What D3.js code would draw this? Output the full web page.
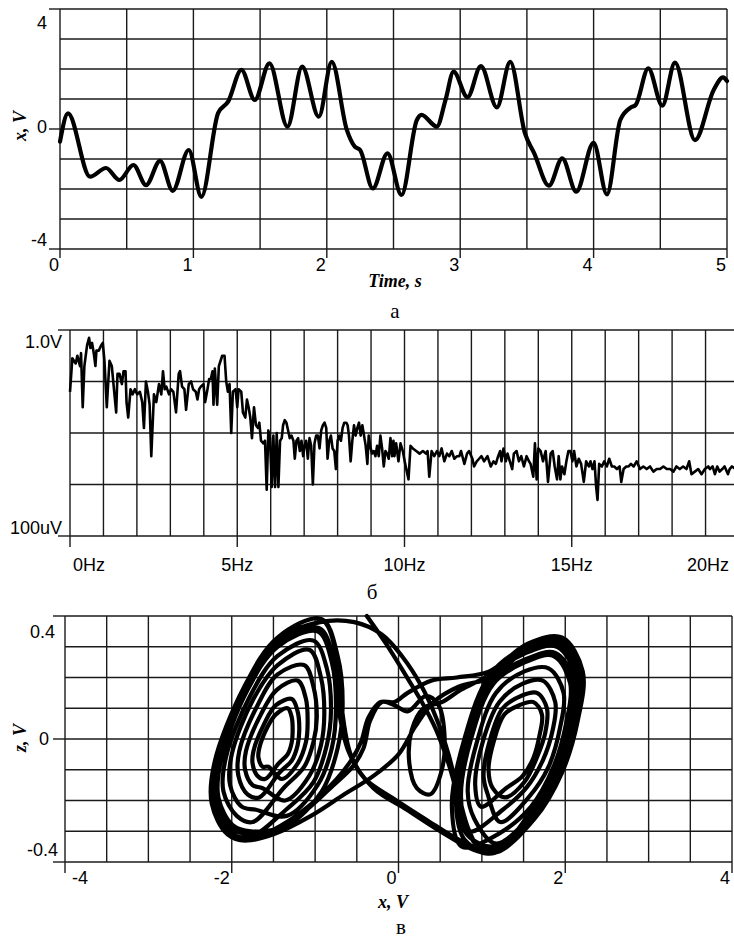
<!DOCTYPE html>
<html>
<head>
<meta charset="utf-8">
<script src="https://cdn.jsdelivr.net/npm/d3@7"></script>
<style>
  body { margin: 0; background: #fff; }
  svg { display: block; }
  .grid line { stroke: #1a1a1a; stroke-width: 1.4; }
  .tick-label { font-family: "Liberation Sans", Arial, sans-serif; font-size: 18px; fill: #000; }
  .axis-title { font-family: "Liberation Serif", "Times New Roman", serif; font-style: italic; font-weight: bold; font-size: 18px; fill: #000; }
  .caption { font-family: "Liberation Serif", "Times New Roman", serif; font-size: 21px; fill: #000; }
</style>
</head>
<body>
<svg id="chart" width="734" height="941"></svg>
<script>
// ---- panel a: x(t), volts vs seconds (extrema)
const timeS = [0, 0.06, 0.225, 0.345, 0.445, 0.55, 0.645, 0.75, 0.845, 0.965, 1.06, 1.185, 1.26, 1.36,
  1.46, 1.57, 1.705, 1.815, 1.94, 2.037, 2.15, 2.21, 2.25, 2.345, 2.455, 2.56, 2.675, 2.71, 2.825,
  2.89, 2.95, 3.055, 3.155, 3.275, 3.375, 3.485, 3.555, 3.665, 3.765, 3.87, 4.0, 4.1, 4.2, 4.28,
  4.315, 4.41, 4.515, 4.61, 4.76, 4.9, 4.97, 5.0];
const xVolt = [-0.42, 0.52, -1.59, -1.3, -1.7, -1.2, -1.87, -1.06, -2.06, -0.7, -2.26, 0.53, 0.91, 1.97,
  0.97, 2.19, 0.08, 2.08, 0.41, 2.24, -0.03, -0.59, -0.7, -1.98, -0.81, -2.2, 0.3, 0.47, 0.08,
  0.97, 1.91, 1.06, 2.1, 0.72, 2.24, -0.14, -0.81, -1.89, -0.98, -2.09, -0.46, -2.18, 0.3, 0.72,
  0.8, 2.02, 0.78, 2.21, -0.37, 1.3, 1.72, 1.6];
const timeTicks = [0, 1, 2, 3, 4, 5];
const voltTicks = [4, 0, -4];

// ---- panel b: spectrum, [frequency Hz, level dBV]
const spectrum = [
  [0.00,-24],[0.07,-11],[0.17,-13],[0.22,-10],[0.30,-14],[0.33,-9],[0.38,-30],[0.43,-14],[0.51,-6],[0.57,-3],
  [0.61,-7],[0.66,-5],[0.71,-9],[0.76,-14],[0.79,-8],[0.86,-8],[0.93,-6],[0.98,-5],[1.03,-12],[1.10,-30],
  [1.18,-12],[1.25,-14],[1.30,-21],[1.38,-32],[1.42,-17],[1.48,-17],[1.55,-21],[1.60,-16],[1.66,-16],[1.69,-28],
  [1.74,-34],[1.81,-23],[1.87,-25],[1.94,-23],[2.01,-25],[2.09,-24],[2.16,-28],[2.21,-38],[2.27,-20],[2.33,-24],
  [2.38,-29],[2.43,-49],[2.51,-25],[2.58,-28],[2.66,-21],[2.73,-25],[2.78,-16],[2.83,-23],[2.88,-22],[2.96,-25],
  [3.02,-23],[3.09,-24],[3.17,-32],[3.25,-17],[3.29,-16],[3.35,-22],[3.42,-23],[3.47,-31],[3.55,-21],[3.62,-20],
  [3.68,-23],[3.76,-24],[3.81,-27],[3.86,-23],[3.91,-22],[3.99,-21],[4.04,-28],[4.11,-23],[4.16,-19],[4.21,-19],
  [4.26,-16],[4.29,-29],[4.33,-15],[4.40,-29],[4.45,-14],[4.55,-10],[4.62,-10],[4.67,-20],[4.72,-24],[4.77,-21],
  [4.82,-40],[4.87,-24],[4.95,-23],[5.00,-30],[5.04,-23],[5.12,-24],[5.17,-32],[5.24,-34],[5.29,-27],[5.34,-30],
  [5.39,-34],[5.44,-42],[5.50,-30],[5.56,-37],[5.62,-38],[5.66,-36],[5.71,-43],[5.78,-44],[5.83,-43],[5.88,-62],
  [5.93,-39],[5.98,-42],[6.03,-61],[6.08,-41],[6.13,-61],[6.18,-40],[6.23,-61],[6.28,-43],[6.33,-42],[6.37,-37],
  [6.42,-35],[6.47,-36],[6.52,-39],[6.57,-42],[6.62,-41],[6.68,-43],[6.72,-50],[6.77,-43],[6.82,-42],[6.87,-47],
  [6.92,-43],[6.97,-49],[7.01,-45],[7.06,-43],[7.11,-50],[7.16,-42],[7.21,-45],[7.26,-60],[7.31,-44],[7.36,-41],
  [7.41,-41],[7.46,-46],[7.51,-39],[7.56,-37],[7.61,-36],[7.66,-38],[7.70,-50],[7.75,-43],[7.80,-41],[7.85,-46],
  [7.90,-47],[7.95,-54],[8.00,-43],[8.05,-41],[8.10,-43],[8.15,-38],[8.20,-36],[8.26,-36],[8.30,-37],[8.34,-41],
  [8.39,-51],[8.44,-43],[8.49,-37],[8.54,-41],[8.59,-38],[8.64,-36],[8.69,-41],[8.74,-37],[8.79,-41],[8.84,-45],
  [8.89,-52],[8.93,-41],[8.99,-46],[9.03,-48],[9.08,-47],[9.13,-49],[9.18,-45],[9.23,-49],[9.28,-41],[9.33,-46],
  [9.38,-53],[9.43,-47],[9.48,-48],[9.53,-50],[9.58,-42],[9.63,-49],[9.67,-43],
  [9.70,-49],[9.75,-44],[9.82,-51],[9.88,-44],[9.95,-47],[10.02,-52],[10.12,-58],[10.18,-45],[10.25,-46],[10.35,-47],
  [10.45,-48],[10.55,-47],[10.64,-48],[10.69,-47],[10.74,-57],[10.81,-47],[10.89,-49],[10.97,-47],[11.04,-49],[11.11,-46],
  [11.19,-51],[11.27,-48],[11.34,-49],[11.41,-47],[11.49,-50],[11.57,-49],[11.64,-49],[11.69,-47],[11.79,-52],[11.87,-48],
  [11.93,-47],[12.03,-50],[12.08,-53],[12.16,-51],[12.23,-50],[12.30,-49],[12.38,-51],[12.48,-49],[12.58,-53],[12.66,-51],
  [12.73,-52],[12.80,-49],[12.86,-47],[12.90,-51],[12.96,-46],[13.03,-51],[13.08,-48],[13.15,-51],[13.22,-54],[13.27,-48],
  [13.35,-47],[13.42,-51],[13.49,-49],[13.57,-53],[13.65,-49],[13.72,-51],[13.77,-52],[13.85,-57],[13.90,-44],[13.95,-58],
  [14.00,-46],[14.07,-47],[14.14,-51],[14.22,-47],[14.29,-59],[14.37,-48],[14.43,-47],[14.49,-53],[14.56,-58],[14.61,-49],
  [14.66,-58],[14.71,-53],[14.78,-56],[14.84,-51],[14.90,-47],[14.96,-47],[15.02,-51],[15.07,-47],[15.14,-53],[15.21,-50],
  [15.28,-52],[15.36,-59],[15.43,-51],[15.51,-53],[15.56,-51],[15.62,-54],[15.68,-51],[15.73,-61],[15.77,-66],[15.82,-52],
  [15.90,-53],[15.97,-51],[16.05,-53],[16.12,-50],[16.20,-53],[16.27,-53],[16.35,-54],[16.43,-53],[16.48,-59],[16.55,-54],
  [16.63,-53],[16.70,-53],[16.77,-52],[16.85,-53],[16.94,-51],[17.04,-54],[17.14,-53],[17.24,-54],[17.34,-53],[17.44,-55],
  [17.54,-54],[17.64,-54],[17.74,-53],[17.84,-54],[17.94,-54],[18.04,-55],[18.13,-53],[18.23,-54],[18.33,-53],[18.43,-54],
  [18.51,-51],[18.58,-56],[18.68,-55],[18.78,-54],[18.88,-56],[18.98,-54],[19.08,-53],[19.13,-54],[19.21,-53],[19.28,-56],
  [19.35,-53],[19.42,-55],[19.50,-54],[19.57,-53],[19.67,-56],[19.72,-54],[19.79,-53],[19.90,-54],[20.00,-53]
];
const freqTicks = [0, 5, 10, 15, 20];
const freqLabels = ["0Hz", "5Hz", "10Hz", "15Hz", "20Hz"];
const levelTicks = [1, 1e-4];
const levelLabels = ["1.0V", "100uV"];

// ---- panel c: phase portrait, [x V, z V] traced along the trajectory
const attractorXZ = [
  // entry from the top edge down into the right scroll
  [-0.38,0.40],[-0.15,0.31],[0.08,0.21],[0.28,0.12],[0.45,0.03],[0.60,-0.08],[0.75,-0.22],[0.92,-0.34],
  // right scroll
  [1.16,-0.36],[1.62,-0.25],[1.94,-0.11],[2.12,0.06],[2.18,0.21],[1.94,0.32],[1.54,0.30],[1.10,0.21],[0.79,0.00],[0.64,-0.22],[0.76,-0.35],
  [1.19,-0.31],[1.59,-0.22],[1.86,-0.09],[2.01,0.05],[2.06,0.18],[1.86,0.27],[1.52,0.25],[1.14,0.18],[0.87,0.00],[0.75,-0.19],[0.85,-0.30],
  [1.25,-0.23],[1.53,-0.16],[1.73,-0.07],[1.85,0.03],[1.88,0.12],[1.73,0.19],[1.49,0.18],[1.21,0.12],[1.01,-0.01],[0.92,-0.15],[0.99,-0.22],
  [1.29,-0.16],[1.49,-0.12],[1.62,-0.06],[1.69,0.01],[1.72,0.08],[1.62,0.12],[1.45,0.11],[1.27,0.08],[1.14,-0.01],[1.08,-0.10],[1.13,-0.16],
  [1.28,-0.19],[1.51,-0.14],[1.66,-0.06],[1.76,0.02],[1.78,0.10],[1.66,0.15],[1.47,0.14],[1.25,0.10],[1.09,-0.01],[1.02,-0.12],[1.07,-0.18],
  [1.22,-0.27],[1.56,-0.19],[1.80,-0.09],[1.94,0.04],[1.98,0.15],[1.80,0.23],[1.51,0.22],[1.17,0.15],[0.94,-0.01],[0.83,-0.17],[0.91,-0.26],
  [1.17,-0.34],[1.61,-0.24],[1.90,-0.10],[2.07,0.05],[2.13,0.20],[1.90,0.30],[1.53,0.28],[1.12,0.20],[0.82,0.00],[0.69,-0.21],[0.80,-0.33],
  [1.15,-0.37],[1.63,-0.26],[1.96,-0.11],[2.15,0.06],[2.21,0.22],[1.96,0.33],[1.55,0.31],[1.09,0.22],
  // across the middle, over the arch, down to the left scroll
  [0.70,0.20],[0.40,0.19],[0.11,0.15],[-0.05,0.12],[-0.22,0.12],[-0.36,0.07],[-0.45,-0.01],[-0.57,-0.07],[-0.74,-0.13],[-1.04,-0.21],[-1.40,-0.28],
  // left scroll
  [-1.81,-0.33],[-2.05,-0.31],[-2.24,-0.21],[-2.21,-0.08],[-1.85,0.17],[-1.45,0.33],[-0.92,0.39],[-0.73,0.27],[-0.67,0.11],[-0.73,-0.03],[-0.92,-0.17],[-1.33,-0.28],
  [-1.77,-0.30],[-1.99,-0.28],[-2.16,-0.19],[-2.13,-0.07],[-1.81,0.16],[-1.45,0.30],[-0.97,0.35],[-0.80,0.25],[-0.75,0.10],[-0.80,-0.03],[-0.97,-0.15],[-1.34,-0.25],
  [-1.71,-0.23],[-1.88,-0.22],[-2.02,-0.15],[-2.00,-0.05],[-1.74,0.13],[-1.45,0.24],[-1.07,0.29],[-0.93,0.20],[-0.89,0.08],[-0.93,-0.02],[-1.07,-0.12],[-1.36,-0.20],
  [-1.63,-0.16],[-1.75,-0.15],[-1.84,-0.10],[-1.83,-0.04],[-1.65,0.08],[-1.46,0.16],[-1.21,0.19],[-1.11,0.13],[-1.09,0.05],[-1.11,-0.01],[-1.21,-0.08],[-1.40,-0.13],
  [-1.56,-0.09],[-1.63,-0.09],[-1.68,-0.06],[-1.67,-0.03],[-1.57,0.04],[-1.47,0.08],[-1.33,0.10],[-1.28,0.07],[-1.27,0.02],[-1.28,-0.01],[-1.33,-0.05],[-1.44,-0.08],
  [-1.60,-0.13],[-1.69,-0.12],[-1.75,-0.08],[-1.74,-0.04],[-1.61,0.05],[-1.47,0.11],[-1.28,0.13],[-1.21,0.09],[-1.19,0.03],[-1.21,-0.02],[-1.28,-0.07],[-1.43,-0.11],
  [-1.67,-0.19],[-1.81,-0.18],[-1.92,-0.12],[-1.91,-0.04],[-1.69,0.11],[-1.45,0.21],[-1.13,0.24],[-1.02,0.17],[-0.98,0.07],[-1.02,-0.01],[-1.13,-0.09],[-1.38,-0.16],
  [-1.75,-0.27],[-1.94,-0.25],[-2.10,-0.17],[-2.07,-0.06],[-1.78,0.14],[-1.45,0.27],[-1.02,0.32],[-0.86,0.23],[-0.81,0.09],[-0.86,-0.02],[-1.02,-0.14],[-1.35,-0.23],
  [-1.80,-0.32],[-2.03,-0.30],[-2.21,-0.20],[-2.18,-0.08],[-1.83,0.16],[-1.45,0.32],[-0.94,0.38],
  // top arc to the right scroll
  [-0.53,0.38],[-0.20,0.34],[0.04,0.27],[0.28,0.17],[0.45,0.07],[0.60,-0.05],[0.72,-0.18],[0.85,-0.30],[1.00,-0.36],
  [1.62,-0.26],[1.95,-0.11],[2.14,0.06],[2.20,0.22],[1.95,0.33],[1.55,0.30],[1.10,0.21],
  // small loop in the middle, then the arch and the lower-left arc
  [0.75,0.16],[0.52,0.12],[0.30,0.10],[0.16,0.03],[0.13,-0.08],[0.22,-0.16],[0.38,-0.18],[0.52,-0.10],[0.55,0.02],[0.48,0.11],[0.33,0.14],
  [0.11,0.09],[-0.05,0.11],[-0.20,0.12],[-0.34,0.06],[-0.42,-0.03],[-0.55,-0.09],[-0.78,-0.15],[-1.10,-0.23],[-1.45,-0.30],
  [-1.79,-0.31],[-2.01,-0.29],[-2.19,-0.20],[-2.16,-0.07],[-1.82,0.16],[-1.45,0.31],[-0.95,0.36],[-0.78,0.26],[-0.72,0.10],
  // out through the right side, under the middle
  [-0.60,-0.04],[-0.40,-0.13],[-0.08,-0.19],[0.32,-0.26],[0.74,-0.33],[1.13,-0.37],
  [1.60,-0.23],[1.88,-0.10],[2.04,0.05],[2.10,0.19],[1.88,0.28],[1.53,0.26],[1.13,0.19],[0.85,0.00],[0.72,-0.20],[0.82,-0.31],
  [1.17,-0.35],[1.61,-0.24],[1.92,-0.10],[2.10,0.05],[2.15,0.20],[1.92,0.31],[1.54,0.29],[1.11,0.20],
  [0.72,0.17],[0.42,0.12],[0.20,0.04],[0.00,-0.05],[-0.30,-0.12],[-0.65,-0.18],[-1.05,-0.25],[-1.50,-0.31],
  [-1.82,-0.33],[-2.05,-0.31],[-2.23,-0.21],[-2.20,-0.08],[-1.85,0.17],[-1.45,0.33],[-0.93,0.39],[-0.74,0.27],[-0.68,0.10],[-0.56,-0.06],
  [-0.30,-0.16],[0.10,-0.23],[0.50,-0.30],[0.90,-0.36],[1.16,-0.37],[1.62,-0.25],[1.95,-0.10],[2.13,0.06],[2.18,0.21],[1.95,0.32]
];
const phaseXTicks = [-4, -2, 0, 2, 4];
const phaseZTicks = [0.4, 0, -0.4];

const svg = d3.select('#chart');
svg.append('rect').attr('width', 734).attr('height', 941).attr('fill', '#fff');

// grid with the frame made of its own outer lines
function drawGrid(g, x, y, xGrid, yGrid) {
  const [xl, xr] = x.range();
  const [yb, yt] = y.range();
  const grid = g.append('g').attr('class', 'grid');
  grid.selectAll('line.v').data(xGrid).enter().append('line')
    .attr('class', 'v')
    .attr('x1', d => x(d)).attr('x2', d => x(d))
    .attr('y1', yt).attr('y2', yb);
  grid.selectAll('line.h').data(yGrid).enter().append('line')
    .attr('class', 'h')
    .attr('x1', xl).attr('x2', xr)
    .attr('y1', d => y(d)).attr('y2', d => y(d));
  return grid;
}

function tickMarks(grid, x, y, xTicks, yTicks, xLen, yLen) {
  const [xl] = x.range();
  const [yb] = y.range();
  grid.selectAll('line.xt').data(xTicks).enter().append('line')
    .attr('class', 'xt')
    .attr('x1', d => x(d)).attr('x2', d => x(d))
    .attr('y1', yb).attr('y2', yb + xLen);
  grid.selectAll('line.yt').data(yTicks).enter().append('line')
    .attr('class', 'yt')
    .attr('x1', xl - yLen).attr('x2', xl)
    .attr('y1', d => y(d)).attr('y2', d => y(d));
}

// ================= panel a
const gA = svg.append('g');
const xA = d3.scaleLinear().domain([0, 5]).range([60, 727]);
const yA = d3.scaleLinear().domain([-4, 4]).range([249, 9]);
const gridA = drawGrid(gA, xA, yA, d3.range(0, 5.01, 0.5), d3.range(-4, 4.01, 1));
tickMarks(gridA, xA, yA, timeTicks, voltTicks, 9, 11);

gA.append('path')
  .datum(d3.zip(timeS, xVolt))
  .attr('fill', 'none')
  .attr('stroke', '#000')
  .attr('stroke-width', 4.2)
  .attr('stroke-linejoin', 'round')
  .attr('stroke-linecap', 'round')
  .attr('d', d3.line().x(d => xA(d[0])).y(d => yA(d[1])).curve(d3.curveMonotoneX));

gA.selectAll('text.xl').data(timeTicks).enter().append('text')
  .attr('class', 'tick-label')
  .attr('text-anchor', 'end')
  .attr('x', d => xA(d) - 1)
  .attr('y', 271)
  .text(d => d);
gA.selectAll('text.yl').data(voltTicks).enter().append('text')
  .attr('class', 'tick-label')
  .attr('text-anchor', 'end')
  .attr('x', 47)
  .attr('y', d => yA(d) + 4 + (d === 4 ? 16 : d === -4 ? -7 : 0))
  .text(d => d);
gA.append('text').attr('class', 'axis-title')
  .attr('text-anchor', 'middle').attr('x', 395).attr('y', 287)
  .text('Time, s');
gA.append('text').attr('class', 'axis-title')
  .attr('text-anchor', 'middle')
  .attr('transform', 'translate(26,126) rotate(-90)')
  .text('x, V');
gA.append('text').attr('class', 'caption')
  .attr('text-anchor', 'middle').attr('x', 395).attr('y', 318)
  .text('а');

// ================= panel b
const gB = svg.append('g');
const xB = d3.scaleLinear().domain([0, 20]).range([70, 739]);
const yB = d3.scaleLog().domain([1e-4, 1]).range([536, 330]);
const gridB = drawGrid(gB, xB, yB, d3.range(0, 20.5, 1), [1, 0.1, 0.01, 1e-3, 1e-4]);
tickMarks(gridB, xB, yB, freqTicks, levelTicks, 11, 12);

gB.append('path')
  .datum(spectrum)
  .attr('fill', 'none')
  .attr('stroke', '#000')
  .attr('stroke-width', 2.6)
  .attr('stroke-linejoin', 'round')
  .attr('d', d3.line().x(d => xB(d[0])).y(d => yB(Math.pow(10, d[1] / 20))));

gB.selectAll('text.xl').data(freqTicks).enter().append('text')
  .attr('class', 'tick-label')
  .attr('text-anchor', (d, i) => i === 0 ? 'start' : i === freqTicks.length - 1 ? 'end' : 'middle')
  .attr('x', (d, i) => i === 0 ? xB(d) + 3 : i === freqTicks.length - 1 ? 729 : xB(d))
  .attr('y', 571)
  .text((d, i) => freqLabels[i]);
gB.selectAll('text.yl').data(levelTicks).enter().append('text')
  .attr('class', 'tick-label')
  .attr('text-anchor', 'end')
  .attr('x', 62)
  .attr('y', (d, i) => yB(d) + (i === 0 ? 18 : -2))
  .text((d, i) => levelLabels[i]);
gB.append('text').attr('class', 'caption')
  .attr('text-anchor', 'middle').attr('x', 372).attr('y', 599)
  .text('б');

// ================= panel c
const gC = svg.append('g');
const xC = d3.scaleLinear().domain([-4, 4]).range([65, 732]);
const yC = d3.scaleLinear().domain([-0.4, 0.4]).range([862, 616]);
const gridC = drawGrid(gC, xC, yC, d3.range(-4, 4.01, 0.5), d3.range(-4, 4.01, 1).map(v => v / 10));
tickMarks(gridC, xC, yC, phaseXTicks, phaseZTicks, 11, 12);

gC.append('path')
  .datum(attractorXZ)
  .attr('fill', 'none')
  .attr('stroke', '#000')
  .attr('stroke-width', 4.2)
  .attr('stroke-linejoin', 'round')
  .attr('stroke-linecap', 'round')
  .attr('d', d3.line().x(d => xC(d[0])).y(d => yC(d[1])).curve(d3.curveCatmullRom.alpha(0.5)));

gC.selectAll('text.xl').data(phaseXTicks).enter().append('text')
  .attr('class', 'tick-label')
  .attr('text-anchor', (d, i) => i === 0 ? 'start' : 'end')
  .attr('x', (d, i) => i === 0 ? xC(d) + 7 : xC(d) - 2)
  .attr('y', 884)
  .text(d => d);
gC.selectAll('text.yl').data(phaseZTicks).enter().append('text')
  .attr('class', 'tick-label')
  .attr('text-anchor', 'end')
  .attr('x', d => d > 0 ? 55 : d < 0 ? 58 : 49)
  .attr('y', d => yC(d) + (d > 0 ? 22 : d < 0 ? -6 : 6))
  .text(d => d);
gC.append('text').attr('class', 'axis-title')
  .attr('text-anchor', 'middle').attr('x', 393).attr('y', 908)
  .text('x, V');
gC.append('text').attr('class', 'axis-title')
  .attr('text-anchor', 'middle')
  .attr('transform', 'translate(26,738) rotate(-90)')
  .text('z, V');
gC.append('text').attr('class', 'caption')
  .attr('text-anchor', 'middle').attr('x', 401).attr('y', 934)
  .text('в');
</script>
</body>
</html>
